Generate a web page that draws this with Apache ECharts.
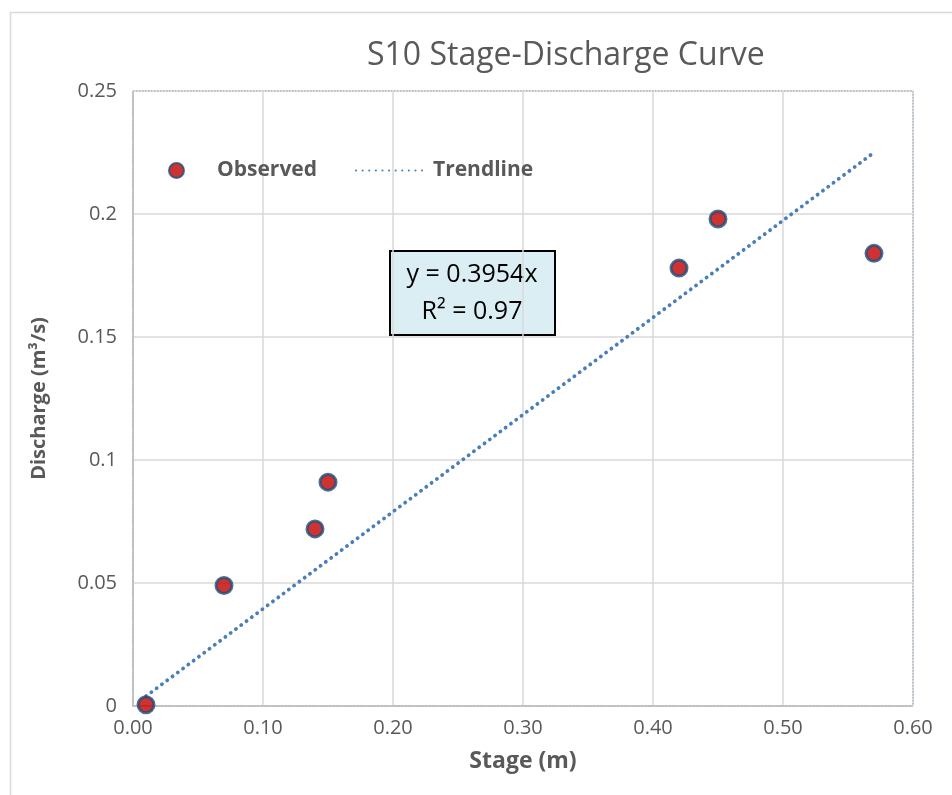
<!DOCTYPE html>
<html>
<head>
<meta charset="utf-8">
<script src="https://cdn.jsdelivr.net/npm/echarts@6/dist/echarts.min.js"></script>
<style>
  html, body { margin: 0; padding: 0; background: #fff; }
  #main { width: 952px; height: 795px; }
</style>
</head>
<body>
<div id="main"></div>
<script>
// observed stage (m) and discharge (m3/s)
const stage = [0.01, 0.07, 0.14, 0.15, 0.42, 0.45, 0.57];
const discharge = [0.0005, 0.049, 0.072, 0.091, 0.178, 0.198, 0.184];
// trendline end points y = 0.3954x
const trendStage = [0.01, 0.57];
const trendDischarge = [0.004, 0.225];
const xTicks = [0, 0.1, 0.2, 0.3, 0.4, 0.5, 0.6];
const yTicks = [0, 0.05, 0.1, 0.15, 0.2, 0.25];

const font = 'Open Sans';
const grey = '#595959';

const myChart = echarts.init(document.getElementById('main'));

const option = {
  backgroundColor: '#fff',
  textStyle: { fontFamily: font },
  title: {
    text: 'S10 Stage-Discharge Curve',
    left: 362,
    top: 35,
    textStyle: { fontSize: 32, fontWeight: 'normal', color: grey, fontFamily: font }
  },
  legend: [
    {
      left: 163,
      top: 155,
      itemWidth: 15,
      itemHeight: 15,
      textStyle: { fontSize: 21, fontWeight: 'bold', color: grey, padding: [0, 0, 0, 28] },
      data: [{ name: 'Observed', icon: 'circle' }]
    },
    {
      left: 350,
      top: 155,
      itemWidth: 72,
      itemHeight: 15,
      textStyle: { fontSize: 21, fontWeight: 'bold', color: grey },
      data: [{ name: 'Trendline', itemStyle: { opacity: 0 } }]
    }
  ],
  grid: {
    left: 133, right: 39, top: 91, bottom: 89,
    show: true,
    borderColor: '#2f5597',
    borderWidth: 1.5,
    borderType: 'dotted'
  },
  xAxis: {
    type: 'value',
    min: xTicks[0],
    max: xTicks[xTicks.length - 1],
    interval: 0.1,
    name: 'Stage (m)',
    nameLocation: 'middle',
    nameGap: 44,
    nameTextStyle: { fontSize: 23, fontWeight: 'bold', color: grey },
    axisLine: { lineStyle: { color: '#bfbfbf', width: 2, type: 'dotted' } },
    axisTick: { show: false },
    axisLabel: { fontSize: 20, color: grey, margin: 12, formatter: v => v.toFixed(2) },
    splitLine: { lineStyle: { color: '#d9d9d9', width: 1.5 } }
  },
  yAxis: {
    type: 'value',
    min: yTicks[0],
    max: yTicks[yTicks.length - 1],
    interval: 0.05,
    name: 'Discharge (m³/s)',
    nameLocation: 'middle',
    nameGap: 84,
    nameTextStyle: { fontSize: 20, fontWeight: 'bold', color: grey },
    axisLine: { show: true, lineStyle: { color: '#bfbfbf', width: 2, type: 'dotted' } },
    axisTick: { show: false },
    axisLabel: { fontSize: 20, color: grey, margin: 16 },
    splitLine: { lineStyle: { color: '#d9d9d9', width: 1.5 } }
  },
  series: [
    {
      name: 'Trendline',
      type: 'line',
      symbol: 'none',
      silent: true,
      z: 3,
      lineStyle: { color: '#4a7ebb', width: 3.8, type: [0.1, 6.5], cap: 'round' },
      itemStyle: { color: '#4a7ebb' },
      data: trendStage.map((x, i) => [x, trendDischarge[i]])
    },
    {
      name: 'Observed',
      type: 'scatter',
      symbolSize: 16,
      z: 4,
      itemStyle: { color: '#c00000', borderColor: '#1f4e79', borderWidth: 3 },
      data: stage.map((x, i) => [x, discharge[i]])
    }
  ],
  graphic: [
    {
      type: 'rect',
      left: 8, top: 10,
      shape: { width: 1000, height: 1000 },
      style: { fill: 'none', stroke: '#d9d9d9', lineWidth: 1.5 },
      silent: true,
      z: -10
    },
    {
      type: 'group',
      left: 389, top: 250,
      z: 10,
      children: [
        {
          type: 'rect',
          shape: { x: 1, y: 1, width: 165, height: 84 },
          style: { fill: '#dbeef4', stroke: '#000', lineWidth: 2 }
        },
        {
          type: 'text',
          x: 83, y: 43,
          style: {
            text: 'y = 0.3954x\nR² = 0.97',
            align: 'center',
            verticalAlign: 'middle',
            fontSize: 25,
            lineHeight: 37,
            fontFamily: font,
            fill: '#000'
          }
        }
      ]
    }
  ]
};

myChart.setOption(option);
window.addEventListener('resize', () => myChart.resize());
</script>
</body>
</html>
